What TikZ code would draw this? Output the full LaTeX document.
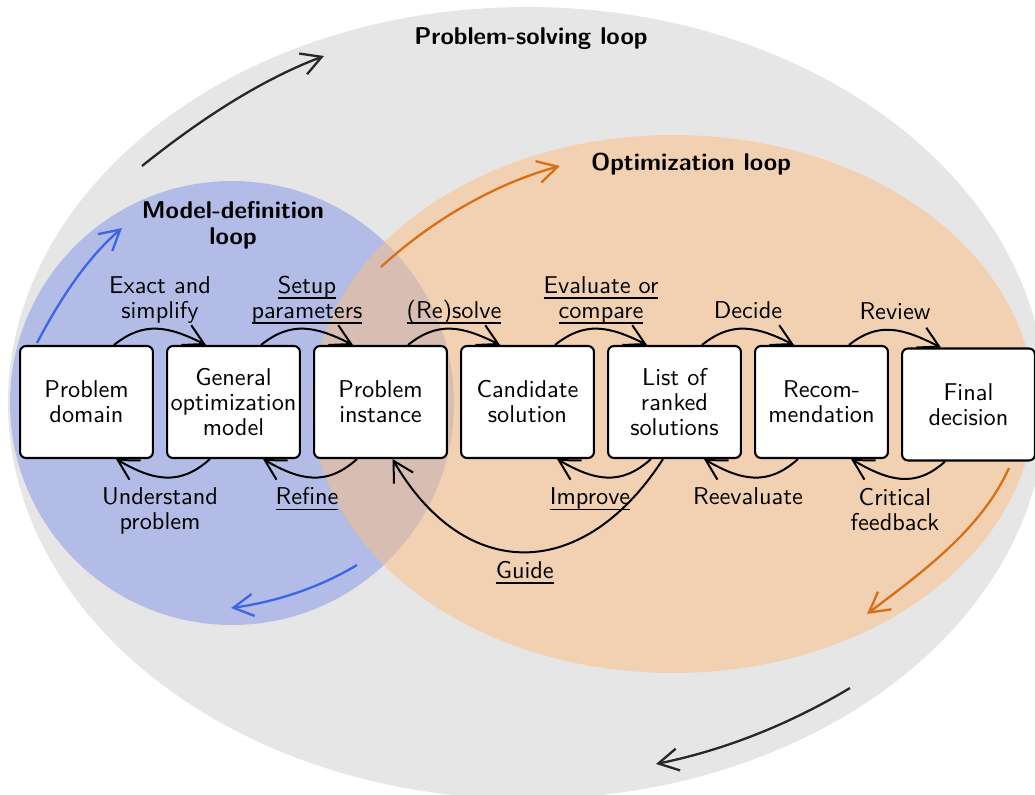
\documentclass[tikz,border=0pt]{standalone}
\usetikzlibrary{arrows.meta}
% underline placed just under the baseline
\newsavebox\ulbox
\newcommand{\undl}[1]{\sbox\ulbox{#1}\rlap{\rule[-2.39pt]{\wd\ulbox}{0.74pt}}\usebox\ulbox}
\definecolor{loopgray}{RGB}{230,230,230}
\definecolor{mdfill}{RGB}{128,148,230}
\definecolor{opfill}{RGB}{255,190,128}
\definecolor{mdline}{RGB}{62,100,232}
\definecolor{opline}{RGB}{214,112,22}
\definecolor{psline}{RGB}{40,40,40}
\begin{document}
% one coordinate unit = 0.41152pt, y pointing down
\begin{tikzpicture}[x=0.41152pt,y=-0.41152pt,
  font=\sffamily\fontsize{10}{10.29}\selectfont,
  >={Straight Barb[length=8.2pt,width=9.1pt]},
  stage/.style={draw, line width=0.85pt, rounded corners=2.5pt, fill=white,
    minimum width=54.7pt, minimum height=46.1pt, align=center, inner sep=0pt},
  conn/.style={line width=0.82pt, ->},
  biglink/.style={line width=0.95pt, ->},
  toplbl/.style={pos=0.5, anchor=south, inner sep=0pt, yshift=0.82pt, xshift=1.23pt, align=center},
  botlbl/.style={pos=0.5, anchor=north, inner sep=0pt, yshift=-3.6pt, xshift=-2.47pt, align=center},
  looptitle/.style={font=\sffamily\bfseries\fontsize{10}{10.7}\selectfont, align=center}
]
\useasboundingbox (0,0) rectangle (1035,795);
\clip (0,0) rectangle (1035,795);

% the three loops
\fill[loopgray] (527,403) ellipse [x radius=519, y radius=396];
\fill[mdfill, fill opacity=0.5] (232,403) circle [radius=222];
\fill[opfill, fill opacity=0.5] (673,404) ellipse [x radius=361, y radius=269];

\node[looptitle] (pst) at (531,39) {Problem-solving loop};
\node[looptitle] (olt) at (691,164) {Optimization loop};
\node[looptitle] (mdt) at (233,225) {Model-definition\\loop};

% circulation arrows of each loop
\coordinate (psA) at (142,166); \coordinate (psB) at (324,56);
\coordinate (psC) at (850,688); \coordinate (psD) at (656,764);
\draw[biglink, psline] (psA) .. controls (197,122) and (258,81) .. (psB);
\draw[biglink, psline] (psC) .. controls (790,724) and (725,750) .. (psD);

\coordinate (opA) at (381,267); \coordinate (opB) at (560,166);
\coordinate (opC) at (1009,468); \coordinate (opD) at (867,614);
\draw[biglink, opline] (opA) .. controls (431,221) and (494,184) .. (opB);
\draw[biglink, opline] (opC) .. controls (981,530) and (921,573) .. (opD);

\coordinate (mdA) at (37,343); \coordinate (mdB) at (122,228);
\coordinate (mdC) at (357,565); \coordinate (mdD) at (231,608);
\draw[biglink, mdline] (mdA) .. controls (59,301) and (86,259) .. (mdB);
\draw[biglink, mdline] (mdC) .. controls (319,588) and (275,602) .. (mdD);

% stages
\node[stage] (b1) at (86.5,402) {Problem\\domain};
\node[stage] (b2) at (233.5,402) {General\\optimization\\model};
\node[stage] (b3) at (380.5,402) {Problem\\instance};
\node[stage] (b4) at (527.5,402) {Candidate\\solution};
\node[stage] (b5) at (674.5,402) {List of\\ranked\\solutions};
\node[stage] (b6) at (821.5,402) {Recom-\\mendation};
\node[stage] (b7) at (968.5,404.5) {Final\\decision};

% forward steps (over the top)
\draw[conn] ([xshift=-16.46pt]b1.north east) .. controls +(30,-24) and +(-38,-19) .. ([xshift=16.46pt]b2.north west)
  node[toplbl] {Exact and\\simplify\strut};
\draw[conn] ([xshift=-16.46pt]b2.north east) .. controls +(30,-24) and +(-38,-19) .. ([xshift=16.46pt]b3.north west)
  node[toplbl] {\undl{Setup}\\\undl{parameters}\strut};
\draw[conn] ([xshift=-16.46pt]b3.north east) .. controls +(30,-24) and +(-38,-19) .. ([xshift=16.46pt]b4.north west)
  node[toplbl] {\undl{(Re)solve}\strut};
\draw[conn] ([xshift=-16.46pt]b4.north east) .. controls +(30,-24) and +(-38,-19) .. ([xshift=16.46pt]b5.north west)
  node[toplbl] {\undl{Evaluate or}\\\undl{compare}\strut};
\draw[conn] ([xshift=-16.46pt]b5.north east) .. controls +(30,-24) and +(-38,-19) .. ([xshift=16.46pt]b6.north west)
  node[toplbl] {Decide\strut};
\draw[conn] ([xshift=-16.46pt]b6.north east) .. controls +(30,-24) and +(-38,-19) .. ([xshift=16.46pt]b7.north west)
  node[toplbl] {Review\strut};

% backward steps (underneath)
\draw[conn] ([xshift=18.1pt]b2.south west) .. controls +(-30,27) and +(38,22) .. ([xshift=-15.64pt]b1.south east)
  node[botlbl] {\strut Understand\\problem};
\draw[conn] ([xshift=18.1pt]b3.south west) .. controls +(-30,27) and +(38,22) .. ([xshift=-15.64pt]b2.south east)
  node[botlbl] {\strut\undl{Refine}};
\draw[conn] ([xshift=18.1pt]b5.south west) .. controls +(-30,27) and +(38,22) .. ([xshift=-15.64pt]b4.south east)
  node[botlbl, xshift=-4.5pt] {\strut\undl{Improve}};
\draw[conn] ([xshift=18.1pt]b6.south west) .. controls +(-30,27) and +(38,22) .. ([xshift=-15.64pt]b5.south east)
  node[botlbl] {\strut Reevaluate};
\draw[conn] ([xshift=18.1pt]b7.south west) .. controls +(-30,27) and +(38,22) .. ([xshift=-15.64pt]b6.south east)
  node[botlbl] {\strut Critical\\feedback};
\draw[conn] ([xshift=23.05pt]b5.south west) .. controls +(-80,124) and +(72,124) .. ([xshift=4.94pt]b3.south)
  node[pos=0.5, anchor=north, inner sep=0pt, yshift=-3.09pt] {\strut\undl{Guide}};
\end{tikzpicture}
\end{document}
